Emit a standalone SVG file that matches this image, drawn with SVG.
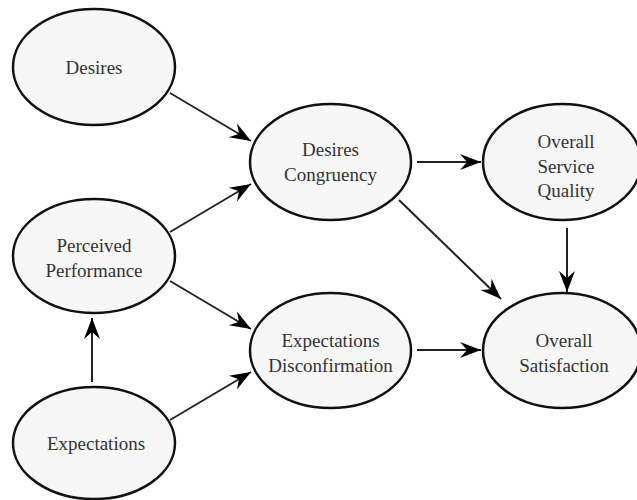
<svg xmlns="http://www.w3.org/2000/svg" width="637" height="500" viewBox="0 0 637 500">
  <style>
    .node ellipse { fill: #f7f7f7; stroke: #111; stroke-width: 2.5; }
    .node text { font-family: 'Liberation Serif', 'Times New Roman', Times, serif; font-size: 19px; fill: #333; text-anchor: middle; }
    .edges line { stroke: #222; stroke-width: 2; marker-end: url(#head); }
  </style>
  <defs>
    <marker id="head" markerUnits="userSpaceOnUse" markerWidth="24" markerHeight="20" viewBox="-22 -10 24 20" refX="0" refY="0" orient="auto">
      <path d="M0,0 L-21,-8 L-14,0 L-21,8 Z" fill="#000"/>
    </marker>
  </defs>
  <rect width="637" height="500" fill="#fff"/>

  <g class="edges">
    <line x1="170" y1="93" x2="251" y2="141"/>
    <line x1="170" y1="232" x2="251" y2="184"/>
    <line x1="417" y1="162" x2="481" y2="162"/>
    <line x1="399" y1="200" x2="501" y2="299"/>
    <line x1="567" y1="228" x2="567" y2="292"/>
    <line x1="170" y1="281" x2="251" y2="329"/>
    <line x1="92" y1="382" x2="92" y2="318"/>
    <line x1="170" y1="420" x2="251" y2="372"/>
    <line x1="417" y1="350" x2="481" y2="350"/>
  </g>

  <g id="desires" class="node">
    <ellipse cx="94" cy="67" rx="81" ry="58"/>
    <text x="94" y="73.5">Desires</text>
  </g>
  <g id="perceived-performance" class="node">
    <ellipse cx="94" cy="256" rx="81" ry="57"/>
    <text x="94" y="252">Perceived</text>
    <text x="94" y="277">Performance</text>
  </g>
  <g id="expectations" class="node">
    <ellipse cx="94" cy="443" rx="81" ry="56"/>
    <text x="96" y="450">Expectations</text>
  </g>
  <g id="desires-congruency" class="node">
    <ellipse cx="330.5" cy="162" rx="80.5" ry="58"/>
    <text x="330.5" y="156">Desires</text>
    <text x="330.5" y="181">Congruency</text>
  </g>
  <g id="expectations-disconfirmation" class="node">
    <ellipse cx="330.5" cy="350.5" rx="80.5" ry="57.5"/>
    <text x="330.5" y="347">Expectations</text>
    <text x="330.5" y="372">Disconfirmation</text>
  </g>
  <g id="overall-service-quality" class="node">
    <ellipse cx="562" cy="162" rx="79" ry="58"/>
    <text x="566" y="148">Overall</text>
    <text x="566" y="172.5">Service</text>
    <text x="566" y="197">Quality</text>
  </g>
  <g id="overall-satisfaction" class="node">
    <ellipse cx="562" cy="350.5" rx="79" ry="57.5"/>
    <text x="564" y="347">Overall</text>
    <text x="564" y="372">Satisfaction</text>
  </g>
</svg>
